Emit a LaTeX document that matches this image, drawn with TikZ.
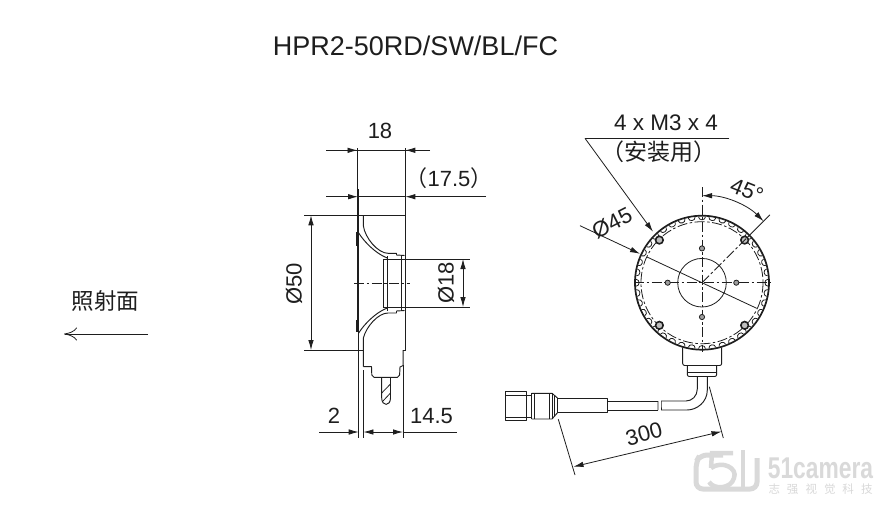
\documentclass[tikz,border=0pt]{standalone}
\usepackage{fontspec}
\setmainfont{Liberation Sans}
\newfontfamily\cjkf{Noto Sans CJK SC}
\usetikzlibrary{arrows.meta,calc}
\definecolor{ink}{HTML}{1E1E1E}
\definecolor{wm}{HTML}{D9D9D9}
\tikzset{
 thin line/.style={draw=ink,line width=0.8pt},
 part/.style={draw=ink,line width=0.95pt,line join=round},
 heavy/.style={draw=ink,line width=1.7pt},
 centre line/.style={draw=ink,line width=0.8pt,dash pattern=on 10pt off 2.5pt on 2.5pt off 2.5pt},
 dimline/.style={thin line,{Latex[length=10pt,width=5.5pt]}-{Latex[length=10pt,width=5.5pt]}},
 tipend/.style={thin line,-{Latex[length=10pt,width=5.5pt]}},
 label/.style={font=\fontsize{22}{24}\selectfont,inner sep=0pt,text=ink},
 wmline/.style={draw=wm,line width=5pt}
}
\begin{document}
\begin{tikzpicture}[x=1pt,y=-1pt]
\useasboundingbox[fill=white] (0,0) rectangle (884,507);
% title
\node[font=\fontsize{27}{30}\selectfont,inner sep=0pt,text=ink] (title) at (415.5,45.5) {HPR2-50RD/SW/BL/FC};
% irradiation side
\node[label,font=\cjkf\fontsize{22.5}{24}\selectfont] (side) at (105.5,301) {照射面};
\coordinate (sideA) at (148,334);
\coordinate (sideB) at (64,334);
\draw[thin line,-{To[length=13pt,width=13pt,line width=0.8pt]}] (sideA) -- (sideB);
% ---- side view
\coordinate (xa) at (357.5,148);
\coordinate (xb) at (405.3,148);
\draw[thin line] (357.5,148) -- (357.5,189);
\draw[thin line] (xb) -- (405.3,350) -- (403.2,350);
\draw[heavy] (358.3,189) -- (358.3,330);
\draw[heavy,line width=1.2pt] (358.7,330) -- (358.7,438);
\draw[heavy,line width=2pt] (357.3,232) -- (357.3,246);
\draw[heavy,line width=2pt] (357.3,320) -- (357.3,332);
% upper and lower shell
\draw[part] (363.4,215.3) -- (363.4,226) .. controls (365,238) and (378,253.3) .. (388,253.3) -- (396.5,253.3) -- (396.5,255) -- (404.5,255.5);
\draw[part] (358.7,233) .. controls (365,243) and (376,253) .. (385,257) -- (387.3,258);
\draw[part] (358.7,333) .. controls (365,323) and (376,313) .. (385,309) -- (387.3,308);
\draw[part] (363.4,366.7) -- (363.4,338) .. controls (366,327) and (378,313) .. (388,313) -- (396.5,313) -- (396.5,311) -- (404.5,310.5);
% bore
\draw[part] (383,259) -- (383,307);
\draw[part] (387.3,256) -- (387.3,311);
\draw[part] (401.7,255) -- (401.7,311);
\draw[part] (387.3,259) -- (405,259);
\draw[part] (387.3,307) -- (405,307);
% connector stub below
\draw[part] (363.4,366.7) -- (371.5,366.7) -- (371.8,375) -- (374,377.3) -- (397.5,377.3) -- (399.6,375) -- (400,367) -- (403.2,365.5) -- (403.2,350);
\draw[part] (381.7,378) -- (381.7,398) .. controls (381.7,406.5) and (390.5,406.5) .. (390.5,398) -- (390.5,378);
\draw[thin line] (381.7,393) -- (390.5,384);
\draw[thin line] (382.5,401.5) -- (390.5,393);
% centre line
\coordinate (clA) at (354,283);
\coordinate (clB) at (410,283);
\draw[centre line] (clA) -- (clB);
% extension lines
\draw[thin line] (304,215.3) -- (405.3,215.3);
\draw[thin line] (304,350) -- (363.4,350);
\draw[thin line] (383,259) -- (470,259);
\draw[thin line] (383,307) -- (470,307);
\draw[thin line] (363.4,370) -- (363.4,438);
\draw[thin line] (403,365) -- (403,438);
% dim 18
\draw[thin line] (326,150.3) -- (430,150.3);
\draw[tipend] (326,150.3) -- (357.5,150.3);
\draw[tipend] (430,150.3) -- (405.3,150.3);
\node[label] (d18) at (380,131) {18};
% dim 17.5
\draw[tipend] (326,196.7) -- (358,196.7);
\draw[thin line] (358,196.7) -- (405.3,196.7);
\draw[tipend] (486,196.7) -- (405.3,196.7);
\node[label] (d175) at (449,178) {{\cjkf （}17.5{\cjkf ）}};
% dim 50
\draw[dimline] (311,215.3) -- (311,350);
\node[label,rotate=90] (d50) at (294,284) {Ø50};
% dim phi18
\draw[dimline] (463,259) -- (463,307);
\node[label,rotate=90] (dp18) at (446,283) {Ø18};
% dim 2 / 14.5
\draw[tipend] (319,432) -- (358.7,432);
\draw[dimline] (363.4,432) -- (403,432);
\draw[thin line] (403,432) -- (457,432);
\node[label] (d2) at (334,416) {2};
\node[label] (d145) at (431.5,416) {14.5};
% ---- front view
\coordinate (c) at (702,282.7);
\draw[centre line] (702,187) -- (702,352);
\draw[centre line] (634,282.7) -- (771,282.7);
\draw[heavy] (c) circle (67);
\draw[centre line] (c) circle (61);
\draw[thin line] (c) circle (24.3);
\foreach \a in {0,9,...,351}
  \draw[thin line] ($(c)+(\a-3:66)$) .. controls ($(c)+(\a-3:62)$) and ($(c)+(\a+3:62)$) .. ($(c)+(\a+3:66)$);
\foreach \a in {0,90,180,270}
  \draw[draw=ink,line width=0.8pt,fill=gray!75] ($(c)+(\a:34.3)$) circle (2.6);
\foreach \a in {45,135,225,315}{
  \draw[draw=ink,line width=1.6pt,fill=gray!50] ($(c)+(\a:60.3)$) circle (3.8);
}
% neck
\draw[part,rounded corners=2pt] (682.7,347.5) -- (682.7,365.5) -- (721.7,365.5) -- (721.7,347.5);
\draw[part,rounded corners=2pt] (687.3,366) -- (687.3,376.5) -- (716.7,376.5) -- (716.7,366);
\draw[thin line] (687.3,372.5) -- (716.7,372.5);
% cable
\draw[part] (697.3,377) -- (697.3,389) .. controls (697.3,396) and (692,401) .. (686,401) -- (661,401);
\draw[part] (707.3,377) -- (707.3,390) .. controls (707.3,402) and (697,410) .. (687,410) -- (661,410);
\draw[part] (658,401) -- (607,401);
\draw[part] (658,410) -- (607,410);
\draw[thin line] (661,401) .. controls (660,404) and (662,407) .. (661,410);
\draw[thin line] (658,401) .. controls (657,404) and (659,407) .. (658,410);
% sleeve and plug
\draw[part] (557.5,398) rectangle (607.5,412.7);
\draw[part] (505,391.7) rectangle (526,420);
\draw[part] (526,395) rectangle (531.7,417);
\draw[part] (531.7,393.3) -- (552,393.3) -- (557.5,398);
\draw[part] (531.7,419) -- (552,419) -- (557.5,412.7);
\draw[part] (531.7,393.3) -- (531.7,419);
\draw[thin line] (534.5,393.3) -- (534.5,419);
\draw[thin line] (549,393.3) -- (549,419);
\draw[thin line] (552,393.3) -- (552,419);
\draw[thin line] (554.5,396) -- (554.5,416);
\draw[thin line] (505,395) -- (526,395);
\draw[thin line] (505,417) -- (526,417);
% dim 300
\coordinate (eA) at (558.3,419.3);
\coordinate (eB) at (575,475);
\coordinate (eC) at (709.3,386.7);
\coordinate (eD) at (723.3,438);
\draw[thin line] (eA) -- (eB);
\draw[thin line] (eC) -- (eD);
\draw[dimline] (573.5,466.7) -- (721.5,431.5);
\node[label,rotate=15] (d300) at (644,434) {300};
% dim 45 deg
\draw[centre line] (c) -- ($(c)+(-45:67)$);
\draw[thin line] ($(c)+(-45:67)$) -- ($(c)+(-45:96)$);
\coordinate (a1) at ($(c)+(-90:87)$);
\coordinate (a2) at ($(c)+(-45:87)$);
\draw[dimline] (a1) arc[start angle=-90,end angle=-45,radius=87];
\node[label,rotate=-22] (d45) at (747,190.5) {45°};
% dim phi45
\coordinate (pa) at (580,225.7);
\coordinate (pb) at (640,253.8);
\coordinate (pe) at (756.7,308.3);
\draw[tipend] (pa) -- (pb);
\draw[thin line] (647,257) -- (pe);
\node[label,rotate=27] (dp45) at (612,223) {Ø45};
% leader
\coordinate (la) at (729.3,138.3);
\coordinate (lb) at (585,138.3);
\coordinate (lc) at (653,231.7);
\draw[thin line] (la) -- (lb);
\draw[tipend] (lb) -- (lc);
\node[label,font=\fontsize{22.5}{24}\selectfont] (m3) at (666,122.5) {4 x M3 x 4};
\node[label,font=\cjkf\fontsize{23}{24}\selectfont] (inst) at (659,152) {（安装用）};
% watermark
\draw[wmline,rounded corners=7pt] (723,455) -- (700,455) -- (696,462) -- (696,489) -- (757,489) -- (757,458);
\draw[wmline,line width=4.5pt] (733,453) -- (712,453) -- (711,468);
\draw[wmline,line width=4.5pt] (711,468) .. controls (722,460) and (738,468) .. (734,478) .. controls (731,489) and (714,490) .. (709,482);
\draw[wmline,line width=4.5pt] (743,450) -- (743,491);
\node[inner sep=0pt,text=wm,font=\bfseries\fontsize{30}{31}\selectfont,xscale=0.76] (wmA) at (820.5,468) {51camera};
\node[inner sep=0pt,text=wm,font=\cjkf\fontsize{11.5}{12}\selectfont] (wmB) at (820.5,489.5) {志\hspace{7pt}强\hspace{7pt}视\hspace{7pt}觉\hspace{7pt}科\hspace{7pt}技};
\end{tikzpicture}
\end{document}
